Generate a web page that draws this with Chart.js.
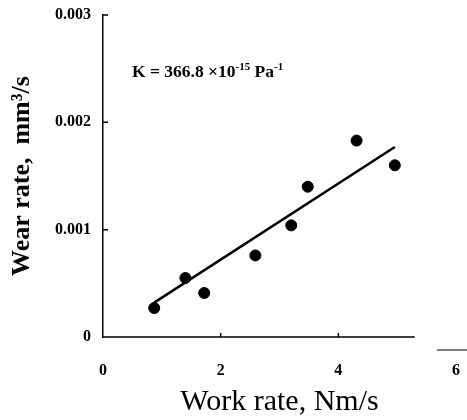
<!DOCTYPE html>
<html>
<head>
<meta charset="utf-8">
<script src="https://cdn.jsdelivr.net/npm/chart.js@4"></script>
<style>
  html, body { margin: 0; padding: 0; background: #fff; }
  #wrap { width: 467px; height: 420px; }
</style>
</head>
<body>
<div id="wrap"><canvas id="myChart" width="467" height="420"></canvas></div>
<script>
// measured points (work rate Nm/s, wear rate mm3/s)
const workRate = [0.87, 1.40, 1.72, 2.59, 3.20, 3.48, 4.31, 4.96];
const wearRate = [0.00027, 0.00055, 0.00041, 0.00076, 0.00104, 0.00140, 0.00183, 0.00160];

// fitted line end points
const fitX = [0.87, 4.96];
const fitY = [0.00032, 0.00177];

const xTicks = [0, 2, 4, 6];
const yTicks = [0, 0.001, 0.002, 0.003];
const xAxisEnd = 5.3;

const serif = "'Liberation Serif', 'DejaVu Serif', serif";

// inner tick marks, short x axis and the K label
const decor = {
	id: "decor",
	afterDraw(chart) {
		const ctx = chart.ctx;
		const x = chart.scales.x;
		const y = chart.scales.y;
		const y0 = y.getPixelForValue(0);
		const x0 = x.getPixelForValue(0);
		ctx.save();
		ctx.strokeStyle = "#000";
		ctx.lineWidth = 1.5;
		ctx.beginPath();
		ctx.moveTo(x0, y0);
		ctx.lineTo(x.getPixelForValue(xAxisEnd), y0);
		xTicks.slice(1).forEach((v) => {
			const px = x.getPixelForValue(v);
			if (v <= xAxisEnd) {
				ctx.moveTo(px, y0);
				ctx.lineTo(px, y0 - 4);
			}
		});
		yTicks.slice(1).forEach((v) => {
			const py = y.getPixelForValue(v);
			ctx.moveTo(x0, py);
			ctx.lineTo(x0 + 5, py);
		});
		ctx.stroke();
		// stray dash near the 6 label
		ctx.lineWidth = 1;
		ctx.beginPath();
		ctx.moveTo(437, 350);
		ctx.lineTo(467, 350);
		ctx.stroke();

		// K annotation
		ctx.fillStyle = "#000";
		ctx.textBaseline = "alphabetic";
		let tx = 132;
		const ty = 77;
		const part = (txt, size, dy, weight) => {
			ctx.font = (weight || "normal") + " " + size + "px " + serif;
			ctx.fillText(txt, tx, ty + dy);
			tx += ctx.measureText(txt).width;
		};
		part("K = 366.8 \u00d710", 17.5, 0, "bold");
		part("-15", 11, -7, "bold");
		part(" Pa", 17.5, 0, "bold");
		part("-1", 11, -7, "bold");
		ctx.restore();
	},
};

const data = {
	datasets: [
		{
			type: "scatter",
			label: "Measured",
			data: workRate.map((v, i) => ({ x: v, y: wearRate[i] })),
			backgroundColor: "#000",
			borderColor: "#000",
			pointRadius: 5.5,
		},
		{
			type: "line",
			label: "Fit",
			data: fitX.map((v, i) => ({ x: v, y: fitY[i] })),
			borderColor: "#000",
			borderWidth: 2.5,
			pointRadius: 0,
			fill: false,
		},
	],
};

const options = {
	responsive: false,
	animation: false,
	layout: { padding: { top: 15, right: 11, left: 0, bottom: 0 } },
	plugins: { legend: { display: false }, tooltip: { enabled: false } },
	scales: {
		x: {
			type: "linear",
			min: 0,
			max: 6,
			afterBuildTicks: (s) => { s.ticks = xTicks.map((v) => ({ value: v })); },
			afterFit: (s) => {
				s.height = 83;
				s.paddingLeft = 0;
				s.paddingRight = 0;
			},
			grid: { display: false },
			border: { display: false },
			ticks: {
				padding: 16,
				color: "#000",
				font: { family: serif, size: 16, weight: "bold" },
			},
			title: {
				display: true,
				text: "Work rate, Nm/s",
				color: "#000",
				font: { family: serif, size: 30 },
				padding: { top: 2, bottom: 0 },
			},
		},
		y: {
			type: "linear",
			min: 0,
			max: 0.003,
			afterBuildTicks: (s) => { s.ticks = yTicks.map((v) => ({ value: v })); },
			afterFit: (s) => {
				s.width = 103;
				s.paddingTop = 0;
				s.paddingBottom = 0;
			},
			grid: { display: false },
			border: { display: true, color: "#000", width: 1.5 },
			ticks: {
				padding: 4,
				color: "#000",
				font: { family: serif, size: 16, weight: "bold" },
				callback: (v) => (v === 0 ? "0" : v.toFixed(3)),
			},
			title: {
				display: true,
				text: "Wear rate,  mm\u00b3/s",
				color: "#000",
				font: { family: serif, size: 26, weight: "bold" },
				padding: { top: 7, bottom: 4 },
			},
		},
	},
};

const myChart = new Chart(document.getElementById("myChart"), {
	data: data,
	options: options,
	plugins: [decor],
});
</script>
</body>
</html>
